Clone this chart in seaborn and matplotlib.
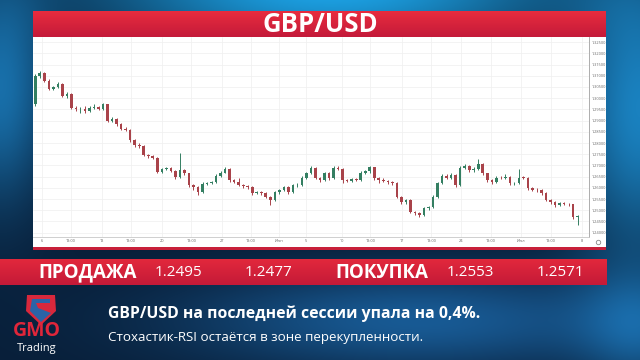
import numpy as np
import matplotlib
matplotlib.use('Agg')
import matplotlib.pyplot as plt
import seaborn as sns
import pandas as pd
from matplotlib.patches import Rectangle, Polygon

# ---------------- data ----------------
opens = [1.2973, 1.3100, 1.3112, 1.3078, 1.3042, 1.3050, 1.3064, 1.3010, 1.3020, 1.2958,
         1.2950, 1.2953, 1.2942, 1.2957, 1.2961, 1.2952, 1.2972, 1.2900, 1.2908, 1.2885,
         1.2864, 1.2860, 1.2812, 1.2790, 1.2786, 1.2745, 1.2740, 1.2734, 1.2670, 1.2684,
         1.2688, 1.2676, 1.2647, 1.2678, 1.2665, 1.2612, 1.2604, 1.2580, 1.2618, 1.2622,
         1.2625, 1.2654, 1.2668, 1.2686, 1.2634, 1.2625, 1.2612, 1.2608, 1.2602, 1.2577,
         1.2580, 1.2576, 1.2560, 1.2545, 1.2580, 1.2590, 1.2602, 1.2580, 1.2611, 1.2612,
         1.2646, 1.2664, 1.2688, 1.2643, 1.2634, 1.2665, 1.2642, 1.2690, 1.2686, 1.2634,
         1.2632, 1.2638, 1.2635, 1.2668, 1.2673, 1.2691, 1.2642, 1.2635, 1.2630, 1.2624,
         1.2620, 1.2560, 1.2536, 1.2545, 1.2491, 1.2487, 1.2478, 1.2508, 1.2514, 1.2560,
         1.2622, 1.2655, 1.2646, 1.2656, 1.2611, 1.2690, 1.2699, 1.2678, 1.2686, 1.2708,
         1.2664, 1.2633, 1.2624, 1.2646, 1.2644, 1.2648, 1.2620, 1.2622, 1.2646, 1.2645,
         1.2598, 1.2590, 1.2589, 1.2576, 1.2545, 1.2536, 1.2522, 1.2531, 1.2528, 1.2527,
         1.2469]
closes = [1.3100, 1.3112, 1.3078, 1.3042, 1.3050, 1.3064, 1.3010, 1.3020, 1.2958, 1.2950,
          1.2953, 1.2942, 1.2957, 1.2961, 1.2952, 1.2972, 1.2900, 1.2908, 1.2885, 1.2864,
          1.2860, 1.2812, 1.2790, 1.2786, 1.2745, 1.2740, 1.2734, 1.2670, 1.2684, 1.2688,
          1.2676, 1.2647, 1.2678, 1.2665, 1.2612, 1.2604, 1.2580, 1.2618, 1.2622, 1.2625,
          1.2654, 1.2668, 1.2686, 1.2634, 1.2625, 1.2612, 1.2608, 1.2602, 1.2577, 1.2580,
          1.2576, 1.2560, 1.2545, 1.2580, 1.2590, 1.2602, 1.2580, 1.2611, 1.2612, 1.2646,
          1.2664, 1.2688, 1.2643, 1.2634, 1.2665, 1.2642, 1.2690, 1.2686, 1.2634, 1.2632,
          1.2638, 1.2635, 1.2668, 1.2673, 1.2691, 1.2642, 1.2635, 1.2630, 1.2624, 1.2620,
          1.2560, 1.2536, 1.2545, 1.2491, 1.2487, 1.2478, 1.2508, 1.2514, 1.2560, 1.2622,
          1.2655, 1.2646, 1.2656, 1.2611, 1.2690, 1.2699, 1.2678, 1.2686, 1.2708, 1.2664,
          1.2633, 1.2624, 1.2646, 1.2644, 1.2648, 1.2620, 1.2622, 1.2646, 1.2645, 1.2598,
          1.2590, 1.2589, 1.2576, 1.2545, 1.2536, 1.2522, 1.2531, 1.2528, 1.2527, 1.2469,
          1.2475]
highs = [1.3108, 1.3120, 1.3116, 1.3084, 1.3056, 1.3072, 1.3068, 1.3028, 1.3024, 1.2964,
         1.2960, 1.2966, 1.2964, 1.2975, 1.2966, 1.2978, 1.2976, 1.2914, 1.2912, 1.2890,
         1.2872, 1.2864, 1.2816, 1.2798, 1.2790, 1.2750, 1.2746, 1.2738, 1.2690, 1.2694,
         1.2692, 1.2680, 1.2757, 1.2684, 1.2668, 1.2618, 1.2608, 1.2624, 1.2628, 1.2632,
         1.2660, 1.2674, 1.2694, 1.2690, 1.2640, 1.2644, 1.2618, 1.2614, 1.2606, 1.2586,
         1.2584, 1.2580, 1.2564, 1.2586, 1.2596, 1.2608, 1.2606, 1.2616, 1.2620, 1.2652,
         1.2670, 1.2696, 1.2692, 1.2648, 1.2672, 1.2670, 1.2696, 1.2698, 1.2690, 1.2640,
         1.2644, 1.2644, 1.2674, 1.2680, 1.2698, 1.2694, 1.2648, 1.2642, 1.2636, 1.2630,
         1.2624, 1.2564, 1.2552, 1.2548, 1.2496, 1.2492, 1.2514, 1.2520, 1.2566, 1.2628,
         1.2662, 1.2660, 1.2664, 1.2660, 1.2696, 1.2706, 1.2704, 1.2694, 1.2730, 1.2712,
         1.2668, 1.2638, 1.2652, 1.2652, 1.2660, 1.2652, 1.2628, 1.2686, 1.2652, 1.2650,
         1.2604, 1.2598, 1.2594, 1.2580, 1.2550, 1.2540, 1.2536, 1.2536, 1.2534, 1.2530,
         1.2480]
lows = [1.2966, 1.3092, 1.3070, 1.3036, 1.3035, 1.3044, 1.3004, 1.3003, 1.2950, 1.2944,
        1.2932, 1.2936, 1.2938, 1.2950, 1.2946, 1.2948, 1.2894, 1.2894, 1.2878, 1.2858,
        1.2852, 1.2806, 1.2784, 1.2778, 1.2740, 1.2734, 1.2728, 1.2664, 1.2664, 1.2678,
        1.2670, 1.2640, 1.2642, 1.2658, 1.2605, 1.2590, 1.2566, 1.2576, 1.2612, 1.2616,
        1.2620, 1.2650, 1.2664, 1.2628, 1.2620, 1.2606, 1.2600, 1.2596, 1.2570, 1.2572,
        1.2570, 1.2554, 1.2522, 1.2540, 1.2574, 1.2586, 1.2574, 1.2576, 1.2604, 1.2608,
        1.2640, 1.2660, 1.2638, 1.2628, 1.2630, 1.2636, 1.2638, 1.2680, 1.2620, 1.2626,
        1.2626, 1.2630, 1.2630, 1.2662, 1.2668, 1.2636, 1.2622, 1.2624, 1.2618, 1.2614,
        1.2554, 1.2530, 1.2530, 1.2486, 1.2480, 1.2468, 1.2474, 1.2502, 1.2510, 1.2556,
        1.2618, 1.2640, 1.2640, 1.2604, 1.2606, 1.2684, 1.2672, 1.2672, 1.2680, 1.2658,
        1.2628, 1.2618, 1.2620, 1.2638, 1.2638, 1.2614, 1.2614, 1.2618, 1.2638, 1.2592,
        1.2584, 1.2580, 1.2570, 1.2540, 1.2530, 1.2516, 1.2518, 1.2522, 1.2520, 1.2462,
        1.2434]

x_tick_pos = [1.5, 7.9, 14.8, 21.2, 28.0, 34.5, 41.3, 47.7, 53.9, 59.9,
              67.9, 74.1, 81.1, 87.6, 94.2, 100.8, 107.5, 114.1, 121.0]
x_tick_labels = ['6', '13:00', '13', '13:00', '20', '13:00', '27', '13:00', 'Июн', '5',
                 '10', '13:00', '17', '13:00', '24', '13:00', 'Июл', '13:00', '8']
y_ticks = [1.2400, 1.2450, 1.2500, 1.2550, 1.2600, 1.2650, 1.2700, 1.2750, 1.2800,
           1.2850, 1.2900, 1.2950, 1.3000, 1.3050, 1.3100, 1.3150, 1.3200, 1.3250]

sell_label = 'ПРОДАЖА'
sell_values = ['1.2495', '1.2477']
buy_label = 'ПОКУПКА'
buy_values = ['1.2553', '1.2571']
headline = 'GBP/USD на последней сессии упала на 0,4%.'
subline = 'Стохастик-RSI остаётся в зоне перекупленности.'
title = 'GBP/USD'

# ---------------- style ----------------
sns.set_theme(style='white')
plt.rcParams['font.family'] = ['Open Sans', 'DejaVu Sans']

W, H = 640, 360
fig = plt.figure(figsize=(6.4, 3.6), dpi=100)

# background gradient
yy, xx = np.mgrid[0:H, 0:W].astype(float)
img = np.zeros((H, W, 3))
base = np.array([8, 30, 56]) / 255.0
img[:] = base


def glow(cx, cy, sx, sy, col, amp):
    g = np.exp(-(((xx - cx) / sx) ** 2 + ((yy - cy) / sy) ** 2))
    return g[..., None] * (np.array(col) / 255.0) * amp


img += glow(330, -10, 230, 60, (20, 130, 170), 1.0)
img += glow(640, 110, 70, 140, (20, 110, 150), 0.9)
img += glow(0, 90, 50, 110, (20, 100, 140), 0.8)
img += glow(420, 320, 230, 50, (20, 75, 115), 0.8)
img += glow(640, 330, 60, 60, (20, 90, 130), 0.5)
img = np.clip(img, 0, 1)

bg = fig.add_axes([0, 0, 1, 1])
bg.set_xlim(0, W)
bg.set_ylim(H, 0)
bg.axis('off')
bg.imshow(img, extent=(0, W, H, 0), aspect='auto', zorder=0)

# red gradient helper
def red_grad(top, bottom):
    t = np.linspace(0, 1, 50)[:, None, None]
    c1 = np.array(top) / 255.0
    c2 = np.array(bottom) / 255.0
    return np.repeat(c1 * (1 - t) + c2 * t, 2, axis=1)

bg.imshow(red_grad((232, 44, 62), (196, 26, 58)), extent=(33, 606, 37, 11),
          aspect='auto', zorder=1)
bg.text(320, 24.5, title, ha='center', va='center', color='white',
        fontsize=18.5, fontweight='bold', zorder=3)

# white chart panel
bg.add_patch(Rectangle((33, 37), 573, 210, facecolor='white', edgecolor='none', zorder=1))
bg.add_patch(Rectangle((33, 247), 573, 3, facecolor='#c8203a', edgecolor='none', zorder=1))

# bottom sell/buy bar
bg.imshow(red_grad((226, 40, 60), (196, 26, 56)), extent=(0, 607, 285, 259),
          aspect='auto', zorder=1)
bg.text(38, 272.5, sell_label, va='center', ha='left', color='white',
        fontsize=13.5, fontweight='bold', zorder=3)
bg.text(155, 272.5, sell_values[0], va='center', ha='left', color='white', fontsize=11, zorder=3)
bg.text(245, 272.5, sell_values[1], va='center', ha='left', color='white', fontsize=11, zorder=3)
bg.text(335, 272.5, buy_label, va='center', ha='left', color='white',
        fontsize=13.5, fontweight='bold', zorder=3)
bg.text(447, 272.5, buy_values[0], va='center', ha='left', color='white', fontsize=11, zorder=3)
bg.text(537, 272.5, buy_values[1], va='center', ha='left', color='white', fontsize=11, zorder=3)

# info texts
bg.text(108, 314, headline, va='center', ha='left', color='white',
        fontsize=11.3, fontweight='bold', zorder=3)
bg.text(108, 337.5, subline, va='center', ha='left', color='white',
        fontsize=9.6, zorder=3)

# logo
bg.add_patch(Polygon([(27, 295), (55, 295), (56, 311), (41, 325), (26, 311)],
                     closed=True, facecolor='#d8283c', edgecolor='none', zorder=2))
bg.add_patch(Polygon([(32, 299), (50, 299), (50, 303), (36, 303), (38, 308), (51, 313),
                      (41, 322), (30, 311)],
                     closed=True, facecolor='#2a64a8', edgecolor='none', zorder=3))
bg.text(37, 331, 'GMO', ha='center', va='center', color='#e0263a',
        fontsize=14, fontweight='bold', zorder=3)
bg.text(37, 349, 'Trading', ha='center', va='center', color='white',
        fontsize=8, zorder=3)

# gear icon
bg.plot([598], [241.5], marker='o', ms=3.2, mfc='none', mec='#888888', mew=0.6, zorder=3)

# ---------------- candlestick chart ----------------
df = pd.DataFrame({'open': opens, 'high': highs, 'low': lows, 'close': closes})
df['idx'] = np.arange(len(df))
df['up'] = df['close'] >= df['open']
up_col = '#347f62'
dn_col = '#a9434a'
cols = np.where(df['up'], up_col, dn_col)

ax = fig.add_axes([33 / W, 1 - 236.7 / H, 556 / W, 199.7 / H])
ax.set_facecolor('white')
ax.vlines(df['idx'], df['low'], df['high'], colors=cols, lw=0.7, zorder=2)
body_bottom = df[['open', 'close']].min(axis=1)
body_h = (df['close'] - df['open']).abs().clip(lower=0.00012)
ax.bar(df['idx'], body_h, bottom=body_bottom, width=0.58, color=cols,
       edgecolor='none', zorder=3)

ax.set_xlim(-0.5, 122.5)
ax.set_ylim(1.2382, 1.3273)
ax.set_xticks(x_tick_pos)
ax.set_xticklabels(x_tick_labels)
ax.yaxis.tick_right()
ax.set_yticks(y_ticks)
ax.set_yticklabels([f'{v:.5f}' for v in y_ticks])
ax.tick_params(axis='both', length=0, labelsize=2.8, colors='#666666')
ax.tick_params(axis='x', pad=2)
ax.tick_params(axis='y', pad=2)
ax.grid(True, color='#efefef', lw=0.5)
for s in ['top', 'left']:
    ax.spines[s].set_visible(False)
ax.spines['right'].set_color('#a0a0a0')
ax.spines['right'].set_linewidth(0.6)
ax.spines['bottom'].set_color('#c8c8c8')
ax.spines['bottom'].set_linewidth(0.6)

fig.savefig('out.png', dpi=100)
